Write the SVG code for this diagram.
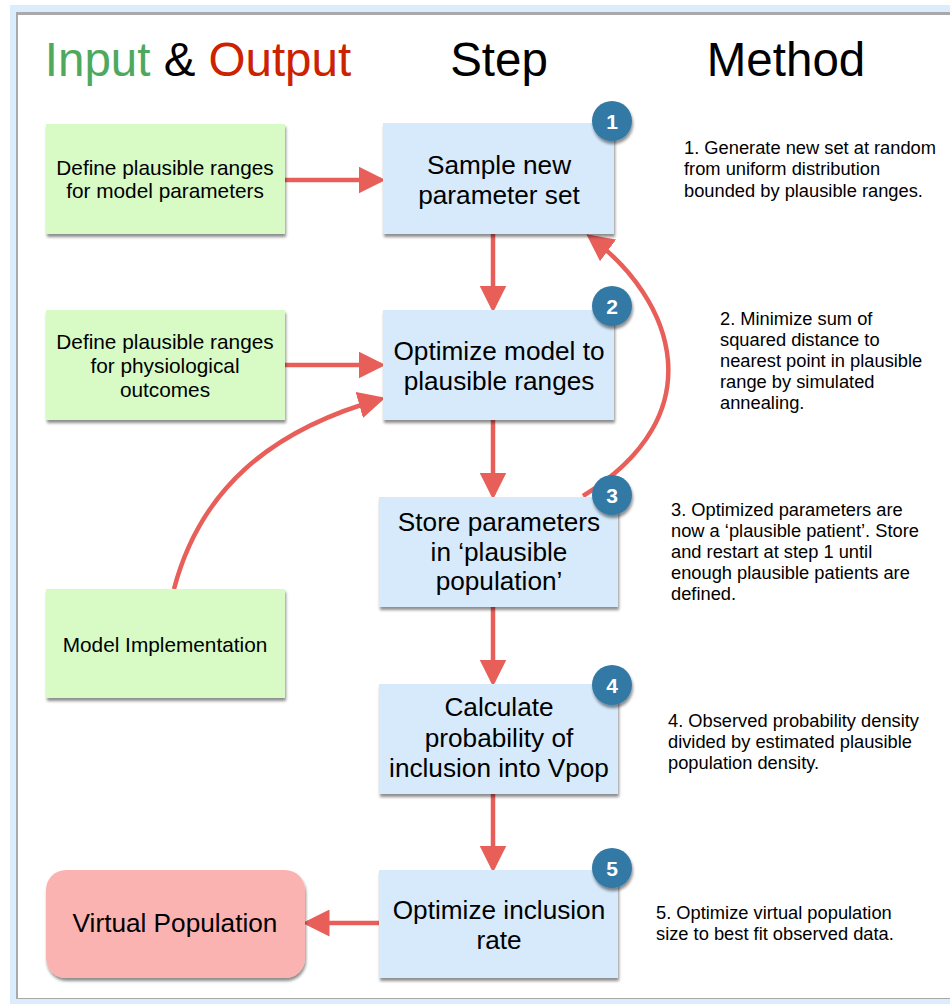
<svg xmlns="http://www.w3.org/2000/svg" width="950" height="1008" viewBox="0 0 950 1008">
<defs>
<style>
text{font-family:"Liberation Sans",Arial,sans-serif;fill:#000}
.title{font-size:47.5px;text-anchor:middle}
.green{fill:#d8fbc6}
.blue{fill:#d6eafb}
.box{filter:url(#sh)}
.gt{font-size:20.8px;text-anchor:middle}
.bt{font-size:26.2px;text-anchor:middle}
.mt{font-size:18.3px}
.badge circle{fill:#3279a6;filter:url(#sh)}
.badge text{fill:#fff;font-size:21px;font-weight:bold;text-anchor:middle}
.arr{stroke:#e85f5a;stroke-width:4.5;fill:none;marker-end:url(#ah)}
</style>
<marker id="ah" markerWidth="6" markerHeight="6" refX="5" refY="3" orient="auto" markerUnits="strokeWidth" viewBox="0 0 6 6">
<path d="M0,0 L6,3 L0,6 z" fill="#e85f5a"/>
</marker>
<filter id="sh" x="-10%" y="-10%" width="125%" height="130%">
<feGaussianBlur in="SourceAlpha" stdDeviation="1.5"/>
<feOffset dx="1" dy="3" result="o"/>
<feComponentTransfer><feFuncA type="linear" slope="0.45"/></feComponentTransfer>
<feMerge><feMergeNode/><feMergeNode in="SourceGraphic"/></feMerge>
</filter>
</defs>
<rect x="0" y="0" width="950" height="1008" fill="#fff"/>
<rect x="10" y="5" width="960" height="999" fill="#dbedfc"/>
<rect x="16" y="12" width="960" height="987" fill="#a9a9a9"/>
<rect x="18" y="15" width="960" height="983" fill="#fff"/>

<g id="headers">
<text class="title" x="198" y="76"><tspan fill="#4ea95e">Input</tspan> &amp; <tspan fill="#cc2200">Output</tspan></text>
<text class="title" x="499" y="76">Step</text>
<text class="title" x="786" y="76">Method</text>
</g>

<g id="connectors">
<line class="arr" x1="285" y1="180" x2="381" y2="180"/>
<line class="arr" x1="285" y1="365" x2="381" y2="365"/>
<line class="arr" x1="493" y1="234" x2="493" y2="308"/>
<line class="arr" x1="493" y1="420" x2="493" y2="495"/>
<line class="arr" x1="493" y1="607" x2="493" y2="682"/>
<line class="arr" x1="493" y1="794" x2="493" y2="868"/>
<line class="arr" x1="379" y1="923" x2="307" y2="923"/>
<path class="arr" d="M174,589 C200,490 270,430 381,399"/>
<path class="arr" d="M583,496 C715,415 675,300 590,237"/>
</g>

<g id="in1"><rect class="box green" x="46" y="124" width="239" height="110"/>
<text class="gt" x="165" y="175">Define plausible ranges</text>
<text class="gt" x="165" y="198">for model parameters</text></g>
<g id="in2"><rect class="box green" x="46" y="310" width="239" height="110"/>
<text class="gt" x="165" y="349">Define plausible ranges</text>
<text class="gt" x="165" y="373">for physiological</text>
<text class="gt" x="165" y="397">outcomes</text></g>
<g id="in3"><rect class="box green" x="46" y="589" width="239" height="109"/>
<text class="gt" x="165" y="652">Model Implementation</text></g>
<g id="out"><rect class="box" x="46" y="870" width="259" height="108" rx="20" fill="#fbb3b1"/>
<text class="bt" x="175" y="932">Virtual Population</text></g>

<g id="step1"><rect class="box blue" x="383" y="123" width="231" height="111"/>
<text class="bt" x="499" y="174">Sample new</text>
<text class="bt" x="499" y="204">parameter set</text></g>
<g id="step2"><rect class="box blue" x="383" y="310" width="231" height="110"/>
<text class="bt" x="499" y="360">Optimize model to</text>
<text class="bt" x="499" y="390">plausible ranges</text></g>
<g id="step3"><rect class="box blue" x="379" y="497" width="239" height="110"/>
<text class="bt" x="499" y="531">Store parameters</text>
<text class="bt" x="499" y="561">in ‘plausible</text>
<text class="bt" x="499" y="590">population’</text></g>
<g id="step4"><rect class="box blue" x="379" y="684" width="239" height="110"/>
<text class="bt" x="499" y="716">Calculate</text>
<text class="bt" x="499" y="747">probability of</text>
<text class="bt" x="499" y="777">inclusion into Vpop</text></g>
<g id="step5"><rect class="box blue" x="379" y="870" width="239" height="108"/>
<text class="bt" x="499" y="919">Optimize inclusion</text>
<text class="bt" x="499" y="949">rate</text></g>

<g id="badge1" class="badge"><circle cx="612" cy="121" r="20"/><text x="612" y="128.5">1</text></g>
<g id="badge2" class="badge"><circle cx="612" cy="306" r="20"/><text x="612" y="313.5">2</text></g>
<g id="badge3" class="badge"><circle cx="612" cy="495" r="20"/><text x="612" y="502.5">3</text></g>
<g id="badge4" class="badge"><circle cx="612" cy="685" r="20"/><text x="612" y="692.5">4</text></g>
<g id="badge5" class="badge"><circle cx="612" cy="868" r="20"/><text x="612" y="875.5">5</text></g>

<g id="methods">
<text class="mt" x="684" y="154">1. Generate new set at random</text>
<text class="mt" x="684" y="175">from uniform distribution</text>
<text class="mt" x="684" y="197">bounded by plausible ranges.</text>
<text class="mt" x="720" y="325">2. Minimize sum of</text>
<text class="mt" x="720" y="346">squared distance to</text>
<text class="mt" x="720" y="367">nearest point in plausible</text>
<text class="mt" x="720" y="388">range by simulated</text>
<text class="mt" x="720" y="409">annealing.</text>
<text class="mt" x="671" y="516">3. Optimized parameters are</text>
<text class="mt" x="671" y="537">now a ‘plausible patient’. Store</text>
<text class="mt" x="671" y="558">and restart at step 1 until</text>
<text class="mt" x="671" y="579">enough plausible patients are</text>
<text class="mt" x="671" y="600">defined.</text>
<text class="mt" x="668" y="727">4. Observed probability density</text>
<text class="mt" x="668" y="748">divided by estimated plausible</text>
<text class="mt" x="668" y="769">population density.</text>
<text class="mt" x="656" y="919">5. Optimize virtual population</text>
<text class="mt" x="656" y="940">size to best fit observed data.</text>
</g>
</svg>
